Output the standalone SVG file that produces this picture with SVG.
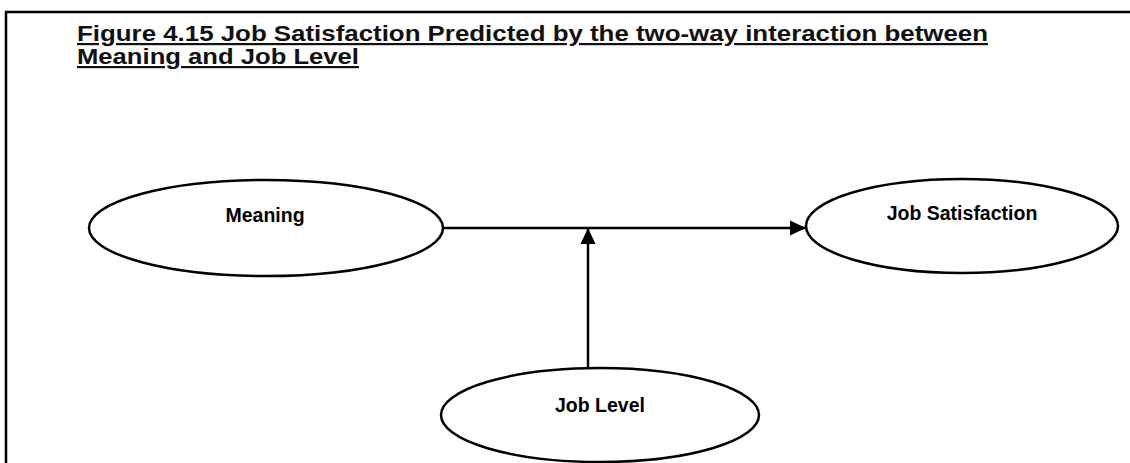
<svg xmlns="http://www.w3.org/2000/svg" width="1130" height="463" viewBox="0 0 1130 463">
  <style>
    .frame { fill: none; stroke: #000; stroke-width: 2.5; }
    .title { font-family: "Liberation Sans", Arial, sans-serif; font-weight: bold; font-size: 22px; fill: #111; text-decoration: underline; }
    .node ellipse { fill: #fff; stroke: #000; stroke-width: 2.5; }
    .node text { font-family: "Liberation Sans", Arial, sans-serif; font-weight: bold; font-size: 19.5px; fill: #000; text-anchor: middle; }
    .conn { stroke: #000; stroke-width: 2.5; fill: none; }
  </style>
  <defs>
    <marker id="arrow" viewBox="0 0 16 16" refX="16" refY="8" markerWidth="16" markerHeight="16" markerUnits="userSpaceOnUse" orient="auto">
      <path d="M0,0.5 L16,8 L0,15.5 Z" fill="#000"/>
    </marker>
  </defs>
  <rect width="1130" height="463" fill="#fff"/>
  <path class="frame" d="M6,463 V12 H1130"/>
  <g id="title">
    <text class="title" x="77" y="41" textLength="911" lengthAdjust="spacingAndGlyphs">Figure 4.15  Job Satisfaction Predicted by the two-way interaction between</text>
    <text class="title" x="77" y="64" textLength="282" lengthAdjust="spacingAndGlyphs">Meaning and Job Level</text>
  </g>
  <g id="connectors">
    <line class="conn" x1="443" y1="228" x2="806" y2="228" marker-end="url(#arrow)"/>
    <line class="conn" x1="588" y1="368" x2="588" y2="228" marker-end="url(#arrow)"/>
  </g>
  <g id="node-meaning" class="node">
    <ellipse cx="266" cy="228" rx="177" ry="48"/>
    <text x="265" y="222">Meaning</text>
  </g>
  <g id="node-job-satisfaction" class="node">
    <ellipse cx="962" cy="226" rx="156" ry="47"/>
    <text x="962" y="220">Job Satisfaction</text>
  </g>
  <g id="node-job-level" class="node">
    <ellipse cx="600" cy="415" rx="159" ry="47"/>
    <text x="600" y="412">Job Level</text>
  </g>
</svg>
